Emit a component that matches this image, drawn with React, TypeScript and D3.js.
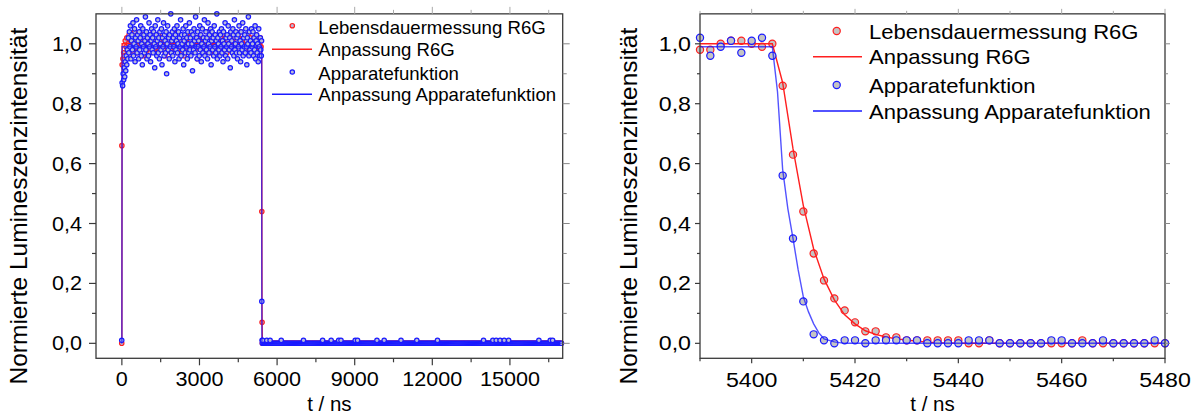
import React from 'react';
import * as d3 from 'd3';

const FONT = '"Liberation Sans", Arial, Helvetica, sans-serif';

// ---------- Overview panel (0 … 17000 ns), 20 ns / 30 ns sampled plateau ----------
const plateauBlueStart = 10;
const plateauBlueStep = 20;
const plateauBlue = [
  0.87, 0.86, 0.90, 0.88, 0.92, 0.89, 0.94, 0.91, 0.96, 0.93, 0.98, 0.95,
  1.02, 0.97, 1.04, 0.99, 1.06, 0.95, 1.01, 1.03, 0.98, 1.07, 0.96, 1.00, 1.05, 0.94, 1.02,
  0.99, 1.08, 0.97, 1.03, 1.01, 0.95, 1.04, 0.98, 1.02, 1.06, 0.96, 1.00, 0.93, 1.05, 0.99,
  1.03, 0.97, 1.01, 1.09, 0.98, 1.04, 0.95, 1.02, 1.00, 0.96, 1.07, 0.99, 1.03, 0.94, 1.01,
  1.05, 0.98, 1.02, 0.97, 1.04, 1.00, 0.92, 1.06, 0.99, 1.03, 0.96, 1.01, 1.08, 0.97, 1.02,
  0.95, 1.04, 1.00, 0.98, 1.05, 0.93, 1.02, 0.99, 1.07, 0.96, 1.03, 1.01, 0.97, 1.04, 0.90,
  1.00, 1.06, 0.98, 1.02, 0.95, 1.03, 0.99, 1.10, 0.97, 1.01, 1.04, 0.96, 1.02, 0.99, 1.05,
  0.94, 1.03, 0.98, 1.01, 1.06, 0.97, 1.00, 1.04, 0.95, 1.02, 0.99, 1.08, 0.96, 1.03, 1.00,
  0.98, 1.05, 0.93, 1.01, 1.03, 0.97, 1.06, 0.99, 1.02, 0.95, 1.04, 1.00, 0.97, 1.07, 0.98,
  1.02, 0.96, 1.04, 1.00, 0.91, 1.03, 0.98, 1.05, 1.01, 0.97, 1.09, 0.99, 1.02, 0.95, 1.04,
  0.99, 1.01, 0.96, 1.06, 0.98, 1.03, 0.94, 1.00, 1.05, 0.97, 1.02, 0.99, 1.08, 0.96, 1.01,
  1.04, 0.98, 1.02, 0.95, 1.07, 1.00, 0.97, 1.03, 0.99, 1.05, 0.93, 1.01, 1.04, 0.98, 1.02,
  0.96, 1.06, 0.99, 1.03, 0.97, 1.01, 1.10, 0.95, 1.02, 1.00, 0.98, 1.04, 0.96, 1.03, 0.99,
  1.05, 0.97, 1.01, 0.94, 1.04, 1.00, 0.98, 1.07, 0.96, 1.02, 0.99, 1.03, 0.95, 1.06, 1.00,
  0.98, 1.02, 0.92, 1.04, 0.99, 1.01, 0.97, 1.05, 1.03, 0.96, 1.08, 0.98, 1.00, 1.04, 0.97,
  1.02, 0.95, 1.03, 0.99, 1.06, 0.97, 1.01, 0.94, 1.04, 1.00, 0.98, 1.07, 0.96, 1.02, 0.99,
  1.03, 0.97, 1.05, 0.99, 0.93, 1.02, 1.00, 1.09, 0.96, 1.04, 0.98, 1.01, 0.97, 1.05, 0.99,
  1.00, 1.04, 0.96, 1.02, 0.98, 1.06, 0.95, 1.01, 1.03, 0.97, 1.00, 0.94, 1.05, 0.99, 0.96,
  1.02, 0.98, 0.96,
];

const plateauRedStart = 10;
const plateauRedStep = 30;
const plateauRed = [
  0.93, 0.95, 0.97, 0.96,
  1.01, 0.99, 1.02, 0.98, 1.00, 1.03, 0.97, 1.01, 0.99, 1.02, 1.00, 0.98, 1.04, 0.99, 1.01, 0.97,
  1.00, 1.02, 0.98, 1.01, 0.99, 1.03, 1.00, 0.96, 1.02, 0.99, 1.01, 0.98, 1.03, 1.00, 0.99, 1.02,
  0.97, 1.01, 1.00, 0.99, 1.04, 0.98, 1.01, 1.02, 0.99, 0.97, 1.00, 1.03, 0.98, 1.01, 0.99, 1.02,
  1.00, 0.98, 1.01, 0.96, 1.02, 1.00, 0.99, 1.03, 0.98, 1.01, 1.00, 0.97, 1.02, 0.99, 1.04, 1.00,
  0.98, 1.01, 0.99, 1.02, 0.97, 1.00, 1.03, 0.99, 1.01, 0.98, 1.02, 1.00, 0.96, 1.01, 0.99, 1.03,
  1.00, 0.98, 1.02, 0.99, 1.01, 0.97, 1.03, 1.00, 0.99, 1.02, 0.98, 1.01, 1.00, 0.95, 1.02, 0.99,
  1.01, 1.03, 0.98, 1.00, 0.99, 1.02, 0.97, 1.01, 1.00, 0.98, 1.04, 0.99, 1.01, 1.00, 0.97, 1.02,
  0.99, 1.01, 0.98, 1.03, 1.00, 0.99, 1.02, 0.96, 1.01, 1.00, 0.98, 1.02, 0.99, 1.01, 1.03, 0.98,
  1.00, 1.02, 0.99, 0.97, 1.01, 1.00, 1.03, 0.98, 1.02, 0.99, 1.00, 0.97, 1.01, 1.02, 0.98, 1.00,
  1.01, 0.99, 1.02, 0.98, 1.00, 1.04, 0.97, 1.01, 0.99, 1.02, 1.00, 0.98, 1.01, 0.99, 1.03, 1.00,
  0.98, 1.02, 1.00, 0.99, 1.01, 0.97, 1.02, 1.00, 0.99, 1.03, 0.98, 1.01, 1.00, 0.98, 1.02, 0.99,
];

// rising / falling edge samples of the overview
const edgeRedT = [-5, 0, 5410, 5420];
const edgeRedV = [0.0, 0.66, 0.44, 0.07];
const edgeBlueT = [-5, 5400, 5410, 5420];
const edgeBlueV = [0.01, 1.01, 0.14, 0.01];

// after the pulse: baseline readings from 5430 ns to 17000 ns, 40 ns apart
const baselineStart = 5430;
const baselineEnd = 17000;
const baselineStep = 40;
const baselineLevel = 0.0;
// single counts slightly above the baseline
const baselineSpikesT = [5440, 5600, 5730, 6160, 7020, 7760, 8090, 8380, 8470, 9020, 9110, 9860,
  10140, 10790, 11400, 12200, 13980, 14340, 14470, 14620, 14780, 14950, 16120, 16560, 16650];
const baselineSpikesV = [0.01, 0.01, 0.01, 0.01, 0.01, 0.01, 0.01, 0.01, 0.01, 0.01, 0.01, 0.01,
  0.01, 0.01, 0.01, 0.01, 0.01, 0.01, 0.01, 0.01, 0.01, 0.01, 0.01, 0.01, 0.01];

// fitted curves for the overview
const fitRedOverviewT = [0, 10, 5404, 5406, 5408, 5412, 5416, 5420, 5430, 5440, 17000];
const fitRedOverviewV = [0, 1.0, 1.0, 0.87, 0.65, 0.315, 0.145, 0.065, 0.011, 0, 0];
const fitBlueOverviewT = [0, 10, 5404, 5406, 5408, 5410, 5412, 5414, 5418, 17000];
const fitBlueOverviewV = [0, 0.99, 0.99, 0.58, 0.35, 0.155, 0.065, 0.015, 0, 0];

// ---------- Detail panel: falling edge, 2 ns sampling ----------
const detailT = [5390, 5392, 5394, 5396, 5398, 5400, 5402, 5404, 5406, 5408, 5410, 5412, 5414, 5416,
  5418, 5420, 5422, 5424, 5426, 5428, 5430, 5432, 5434, 5436, 5438, 5440, 5442, 5444, 5446, 5448,
  5450, 5452, 5454, 5456, 5458, 5460, 5462, 5464, 5466, 5468, 5470, 5472, 5474, 5476, 5478, 5480];
const detailRed = [0.98, 0.98, 1.00, 1.01, 1.01, 1.00, 0.99, 1.00, 0.86, 0.63, 0.44, 0.30, 0.21, 0.15,
  0.11, 0.07, 0.04, 0.04, 0.02, 0.02, 0.01, 0.01, 0.01, 0.01, 0.01, 0.01, 0.00, 0.00, 0.01, 0.00,
  0.00, 0.00, 0.00, 0.00, 0.00, 0.00, 0.00, 0.01, 0.00, 0.00, 0.00, 0.00, 0.00, 0.00, 0.00, 0.00];
const detailBlue = [1.02, 0.96, 0.99, 1.01, 0.97, 1.01, 1.02, 0.96, 0.56, 0.35, 0.14, 0.03, 0.01, 0.00,
  0.01, 0.01, 0.00, 0.01, 0.01, 0.01, 0.01, 0.01, 0.00, 0.00, 0.00, 0.00, 0.01, 0.01, 0.01, 0.00,
  0.00, 0.00, 0.00, 0.00, 0.01, 0.01, 0.00, 0.00, 0.00, 0.01, 0.00, 0.00, 0.00, 0.00, 0.01, 0.00];

const fitRedDetailT = [5390, 5404, 5406, 5408, 5410, 5412, 5414, 5416, 5418, 5420, 5422, 5424, 5426,
  5428, 5430, 5432, 5434, 5436, 5440, 5480];
const fitRedDetailV = [1.0, 1.0, 0.87, 0.65, 0.46, 0.315, 0.215, 0.145, 0.095, 0.065, 0.042, 0.03,
  0.021, 0.015, 0.011, 0.007, 0.004, 0.002, 0.0, 0.0];
const fitBlueDetailT = [5390, 5404, 5405, 5406, 5407, 5408, 5409, 5410, 5411, 5412, 5413, 5414, 5416,
  5418, 5480];
const fitBlueDetailV = [0.99, 0.99, 0.84, 0.58, 0.45, 0.35, 0.245, 0.155, 0.105, 0.065, 0.035, 0.015,
  0.005, 0.0, 0.0];

// ---------- axes ----------
const yMajor = [0, 0.2, 0.4, 0.6, 0.8, 1.0];
const yMinor = [0.1, 0.3, 0.5, 0.7, 0.9];
const overviewMajor = [0, 3000, 6000, 9000, 12000, 15000];
const overviewMinor = [1500, 4500, 7500, 10500, 13500, 16500];
const detailMajor = [5400, 5420, 5440, 5460, 5480];
const detailMinor = [5390, 5410, 5430, 5450, 5470];

const legendLabels = ['Lebensdauermessung R6G', 'Anpassung R6G', 'Apparatefunktion', 'Anpassung Apparatefunktion'];
const yTitle = 'Normierte Lumineszenzintensität';
const xTitle = 't / ns';

const RED = '#ff1f1f';
const BLUE = '#1a1aff';
const FILL = '#c4c4c4';
const AXIS = '#3a3a3a';

const deLocale = d3.formatLocale({ decimal: ',', thousands: '.', grouping: [3], currency: ['', ' €'] });
const fmtY = deLocale.format('.1f');
const fmtX = d3.format('d');

type Pt = [number, number];
const zip = (t: number[], v: number[]): Pt[] => t.map((ti, i) => [ti, v[i]]);

const overviewRed: Pt[] = [
  ...zip(edgeRedT.slice(0, 2), edgeRedV.slice(0, 2)),
  ...plateauRed.map((v, i) => [plateauRedStart + i * plateauRedStep, v] as Pt),
  ...zip(edgeRedT.slice(2), edgeRedV.slice(2)),
  ...d3.range(baselineStart, baselineEnd + 1, baselineStep).map((t) => [t, baselineLevel] as Pt),
];
const overviewBlue: Pt[] = [
  ...zip(edgeBlueT.slice(0, 1), edgeBlueV.slice(0, 1)),
  ...plateauBlue.map((v, i) => [plateauBlueStart + i * plateauBlueStep, v] as Pt),
  ...zip(edgeBlueT.slice(1), edgeBlueV.slice(1)),
  ...d3.range(baselineStart, baselineEnd + 1, baselineStep).map((t) => [t, baselineLevel] as Pt),
  ...zip(baselineSpikesT, baselineSpikesV),
];

type PanelProps = {
  x: d3.ScaleLinear<number, number>;
  y: d3.ScaleLinear<number, number>;
  xMajor: number[];
  xMinor: number[];
  red: Pt[];
  blue: Pt[];
  redFit: Pt[];
  blueFit: Pt[];
  r: number;
  sw: number;
  fill: string;
  majorLen: number;
  minorLen: number;
  tickFont: number;
  tickSx: number;
  yLabelRight: number;
  xLabelBase: number;
  yTitleX: number;
  titleFont: number;
  legend: {
    symX: number; lineX0: number; lineX1: number; textX: number;
    rows: number[]; bases: number[]; font: number; sx: number; r: number;
  };
};

function Panel(p: PanelProps) {
  const { x, y } = p;
  const [xl, xr] = x.range();
  const [yb, yt] = y.range();
  const line = d3.line<Pt>().x((d) => x(d[0])).y((d) => y(d[1]));
  const lg = p.legend;
  return (
    <g fontFamily={FONT}>
      {/* data */}
      <g>
        {p.red.map((d, i) => (
          <circle key={'r' + i} cx={x(d[0])} cy={y(d[1])} r={p.r} fill={p.fill} stroke={RED} strokeWidth={p.sw} />
        ))}
      </g>
      <path d={line(p.redFit) || ''} fill="none" stroke={RED} strokeWidth={1.4} />
      <g>
        {p.blue.map((d, i) => (
          <circle key={'b' + i} cx={x(d[0])} cy={y(d[1])} r={p.r} fill={p.fill} stroke={BLUE} strokeWidth={p.sw} />
        ))}
      </g>
      <path d={line(p.blueFit) || ''} fill="none" stroke={BLUE} strokeOpacity={0.75} strokeWidth={1.4} />

      {/* frame */}
      <rect x={xl} y={yt} width={xr - xl} height={yb - yt} fill="none" stroke={AXIS} strokeWidth={1.3} />

      {/* y ticks, left and right */}
      {yMajor.map((v) => (
        <g key={'ym' + v}>
          <line x1={xl - p.majorLen} x2={xl} y1={y(v)} y2={y(v)} stroke={AXIS} strokeWidth={1.2} />
          <line x1={xr} x2={xr + p.majorLen} y1={y(v)} y2={y(v)} stroke="#888" strokeWidth={1} />
          <text
            transform={`translate(${p.yLabelRight},${y(v) + 7}) scale(${p.tickSx},1)`}
            textAnchor="end" fontSize={p.tickFont} fill="#000"
          >{fmtY(v)}</text>
        </g>
      ))}
      {yMinor.map((v) => (
        <g key={'yn' + v}>
          <line x1={xl - p.minorLen} x2={xl} y1={y(v)} y2={y(v)} stroke={AXIS} strokeWidth={1.2} />
          <line x1={xr} x2={xr + p.minorLen} y1={y(v)} y2={y(v)} stroke="#888" strokeWidth={1} />
        </g>
      ))}

      {/* x ticks, bottom and top */}
      {p.xMajor.map((v) => (
        <g key={'xm' + v}>
          <line x1={x(v)} x2={x(v)} y1={yb} y2={yb + p.majorLen} stroke={AXIS} strokeWidth={1.2} />
          <line x1={x(v)} x2={x(v)} y1={yt - p.majorLen} y2={yt} stroke="#aaa" strokeWidth={1} />
          <text
            transform={`translate(${x(v)},${p.xLabelBase}) scale(${p.tickSx},1)`}
            textAnchor="middle" fontSize={p.tickFont} fill="#000"
          >{fmtX(v)}</text>
        </g>
      ))}
      {p.xMinor.map((v) => (
        <g key={'xn' + v}>
          <line x1={x(v)} x2={x(v)} y1={yb} y2={yb + p.minorLen} stroke={AXIS} strokeWidth={1.2} />
          <line x1={x(v)} x2={x(v)} y1={yt - p.minorLen} y2={yt} stroke="#aaa" strokeWidth={1} />
        </g>
      ))}

      {/* axis titles */}
      <text x={(xl + xr) / 2} y={411} textAnchor="middle" fontSize={20.5} fill="#000">{xTitle}</text>
      <text
        transform={`translate(${p.yTitleX},${(yb + yt) / 2 + 20}) rotate(-90)`}
        textAnchor="middle" fontSize={p.titleFont} fill="#000"
      >{yTitle}</text>

      {/* legend */}
      <circle cx={lg.symX} cy={lg.rows[0]} r={lg.r} fill={p.fill} stroke={RED} strokeWidth={p.sw} />
      <line x1={lg.lineX0} x2={lg.lineX1} y1={lg.rows[1]} y2={lg.rows[1]} stroke={RED} strokeWidth={1.4} />
      <circle cx={lg.symX} cy={lg.rows[2]} r={lg.r} fill={p.fill} stroke={BLUE} strokeWidth={p.sw} />
      <line x1={lg.lineX0} x2={lg.lineX1} y1={lg.rows[3]} y2={lg.rows[3]} stroke={BLUE} strokeWidth={1.4} />
      {legendLabels.map((s, i) => (
        <text key={s} transform={`translate(${lg.textX},${lg.bases[i]}) scale(${lg.sx},1)`}
          fontSize={lg.font} fill="#000">{s}</text>
      ))}
    </g>
  );
}

export default function App() {
  const y = d3.scaleLinear().domain([-0.05, 1.1]).range([358.3, 13.85]);
  const xOverview = d3.scaleLinear().domain([-1000, 17040]).range([96, 562.7]);
  const xDetail = d3.scaleLinear().domain([5390, 5480]).range([700, 1165]);

  return (
    <svg width={1197} height={416} style={{ position: 'absolute', left: 0, top: 0, background: '#fff' }}>
      <rect width={1197} height={416} fill="#fff" />
      <Panel
        x={xOverview} y={y} xMajor={overviewMajor} xMinor={overviewMinor}
        red={overviewRed} blue={overviewBlue}
        redFit={zip(fitRedOverviewT, fitRedOverviewV)} blueFit={zip(fitBlueOverviewT, fitBlueOverviewV)}
        r={2.2} sw={1.2} fill="#b8b8d8" majorLen={7} minorLen={4} tickFont={20} tickSx={1.08}
        yLabelRight={82} xLabelBase={386} yTitleX={27} titleFont={24.5}
        legend={{ symX: 292.3, lineX0: 272, lineX1: 312, textX: 318.3,
          rows: [25.7, 49.3, 72, 94.3], bases: [33.5, 56, 79.5, 101], font: 18.6, sx: 1, r: 2.2 }}
      />
      <Panel
        x={xDetail} y={y} xMajor={detailMajor} xMinor={detailMinor}
        red={zip(detailT, detailRed)} blue={zip(detailT, detailBlue)}
        redFit={zip(fitRedDetailT, fitRedDetailV)} blueFit={zip(fitBlueDetailT, fitBlueDetailV)}
        r={3.6} sw={1.2} fill={FILL} majorLen={5} minorLen={3} tickFont={20} tickSx={1.16}
        yLabelRight={691} xLabelBase={386.7} yTitleX={637} titleFont={24.5}
        legend={{ symX: 836.7, lineX0: 813, lineX1: 862, textX: 869,
          rows: [31, 56.7, 85, 111], bases: [38.5, 64, 92.5, 118.5], font: 21, sx: 1.05, r: 3.6 }}
      />
    </svg>
  );
}
